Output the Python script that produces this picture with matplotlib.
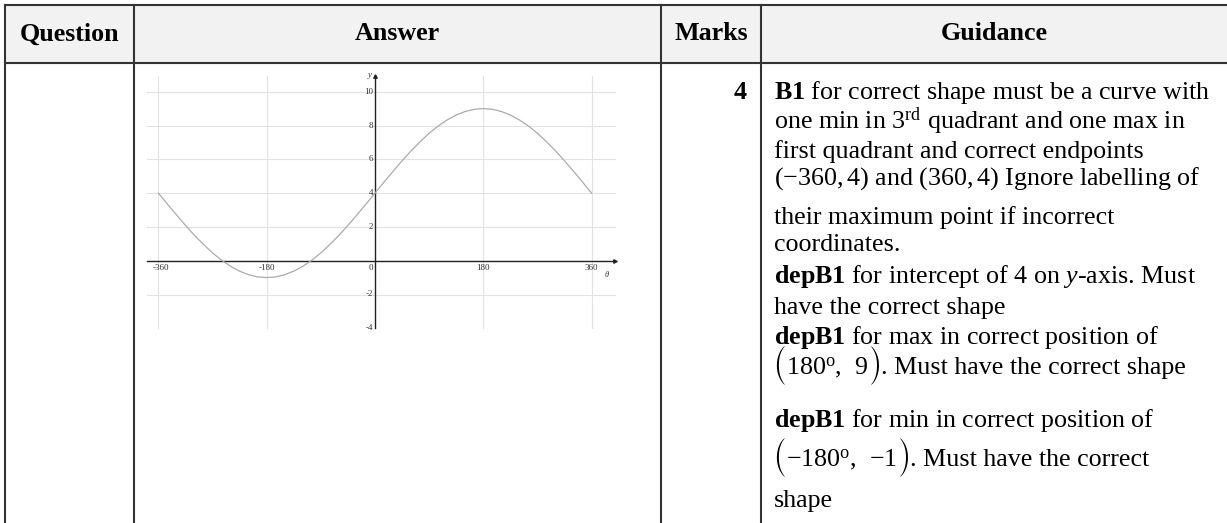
import matplotlib
matplotlib.use("Agg")
import matplotlib.pyplot as plt

plt.rcParams['mathtext.fontset'] = 'custom'
plt.rcParams['mathtext.rm'] = 'Liberation Serif'
plt.rcParams['mathtext.it'] = 'Liberation Serif:italic'
plt.rcParams['mathtext.bf'] = 'Liberation Serif:bold'

SERIF = 'Liberation Serif'
FS = 18.7

# ---- data ----
headers = ['Question', 'Answer', 'Marks', 'Guidance']
marks = '4'

theta = [-360, -345, -330, -315, -300, -285, -270, -255, -240, -225, -210, -195,
         -180, -165, -150, -135, -120, -105, -90, -75, -60, -45, -30, -15,
         0, 15, 30, 45, 60, 75, 90, 105, 120, 135, 150, 165,
         180, 195, 210, 225, 240, 255, 270, 285, 300, 315, 330, 345, 360]
y_vals = [4.0, 3.35, 2.71, 2.09, 1.5, 0.96, 0.46, 0.03, -0.33, -0.62, -0.83, -0.96,
          -1.0, -0.96, -0.83, -0.62, -0.33, 0.03, 0.46, 0.96, 1.5, 2.09, 2.71, 3.35,
          4.0, 4.65, 5.29, 5.91, 6.5, 7.04, 7.54, 7.97, 8.33, 8.62, 8.83, 8.96,
          9.0, 8.96, 8.83, 8.62, 8.33, 7.97, 7.54, 7.04, 6.5, 5.91, 5.29, 4.65, 4.0]

x_ticks = [-360, -180, 0, 180, 360]
x_grid = [-360, -180, 180, 360]
y_ticks = [10, 8, 6, 4, 2, -2, -4]
y_grid = [10, 8, 6, 4, 2, -2]

# plain lines are strings; lines with big brackets are (inside, rest) pairs
guidance = [
    r"$\mathbf{B1}$ for correct shape must be a curve with",
    r"one min in 3$^{\mathrm{rd}}$ quadrant and one max in",
    "first quadrant and correct endpoints",
    r"$(-360,4)$ and $(360,4)$ Ignore labelling of",
    "their maximum point if incorrect",
    "coordinates.",
    r"$\mathbf{depB1}$ for intercept of 4 on $y$-axis. Must",
    "have the correct shape",
    r"$\mathbf{depB1}$ for max in correct position of",
    (r"180$^{\mathrm{o}}$,  9", ". Must have the correct shape"),
    r"$\mathbf{depB1}$ for min in correct position of",
    (r"−180$^{\mathrm{o}}$,  −1", ". Must have the correct"),
    "shape",
]
line_y = [93, 123, 152, 179, 218, 245, 277, 308, 338, 368, 421, 460, 501]

# ---- layout (pixels) ----
W, H = 1227, 523
col_x = [5, 134, 661, 761, W]
top_y, head_y = 5, 62.5
text_x = 774

fig = plt.figure(figsize=(W / 100, H / 100), dpi=100)
tab = fig.add_axes([0, 0, 1, 1])
tab.set_xlim(0, W)
tab.set_ylim(H, 0)
tab.axis('off')
renderer = fig.canvas.get_renderer()

tab.fill_between([col_x[0], W], top_y, head_y, color='#f2f2f2', zorder=0)
lc = '#333333'
tab.plot([col_x[0], W], [top_y, top_y], color=lc, lw=1.5)
tab.plot([col_x[0], W], [head_y, head_y], color=lc, lw=1.5)
for x in col_x[:-1]:
    tab.plot([x, x], [top_y, H], color=lc, lw=1.5)

for i, h in enumerate(headers):
    cx = (col_x[i] + col_x[i + 1]) / 2
    tab.text(cx, 34, h, ha='center', va='center', family=SERIF,
             fontweight='bold', fontsize=FS)

tab.text(747, line_y[0] + 6, marks, ha='right', va='baseline', family=SERIF,
         fontweight='bold', fontsize=FS)


def put(x, y, s, family=SERIF, **kw):
    t = tab.text(x, y, s, family=family, ha='left', **kw)
    return x + t.get_window_extent(renderer).width


for item, y in zip(guidance, line_y):
    if isinstance(item, str):
        tab.text(text_x, y + 6, item, ha='left', va='baseline', family=SERIF, fontsize=FS)
        continue
    inside, rest = item
    x = put(text_x - 1, y - 2, '(', family='STIXSizeTwoSym', va='center', fontsize=15)
    x = put(x + 1, y + 6, inside, va='baseline', fontsize=FS)
    x = put(x, y - 2, ')', family='STIXSizeTwoSym', va='center', fontsize=15)
    put(x, y + 6, rest, va='baseline', fontsize=FS)

# ---- the graph in the Answer cell ----
x0_px, y0_px = 375, 260.7
sx, sy = 108.3 / 180, 16.9
xl, xr, yb, yt = -400, 420, -4.6, 11.5
left = x0_px + xl * sx
right = x0_px + xr * sx
top = y0_px - yt * sy
bottom = y0_px - yb * sy
g = fig.add_axes([left / W, 1 - bottom / H, (right - left) / W, (bottom - top) / H])
g.set_xlim(xl, xr)
g.set_ylim(yb, yt)
g.axis('off')
g.patch.set_alpha(0)

grid_c = '#e3e3e3'
for v in y_grid:
    g.plot([-379, 399], [v, v], color=grid_c, lw=0.8, zorder=1)
for v in x_grid:
    g.plot([v, v], [-4, 10.9], color=grid_c, lw=0.8, zorder=1)

g.plot([-379, 399], [0, 0], color='#222222', lw=1.0, zorder=2)
g.plot([0, 0], [-4, 10.9], color='#222222', lw=1.0, zorder=2)
g.plot([399], [0], marker='>', ms=2.5, color='#222222', zorder=3)
g.plot([0], [10.9], marker='^', ms=2.5, color='#222222', zorder=3)

g.plot(theta, y_vals, color='#ababab', lw=0.9, zorder=4)

tick_kw = dict(family=SERIF, fontsize=6.5, color='#333333')
for v in x_ticks:
    if v == 0:
        g.text(-3, -0.2, '0', ha='right', va='top', **tick_kw)
    else:
        g.text(v + (5 if v == -360 else 0), -0.2, str(v), ha='center', va='top', **tick_kw)
for v in y_ticks:
    g.text(-3, v, str(v), ha='right', va='center', **tick_kw)
g.text(-9, 11.0, 'y', ha='center', va='center', style='italic', **tick_kw)
g.text(385, -0.5, r'$\theta$', ha='center', va='top', family=SERIF, fontsize=6,
       color='#333333')

fig.savefig('out.png', dpi=100)
